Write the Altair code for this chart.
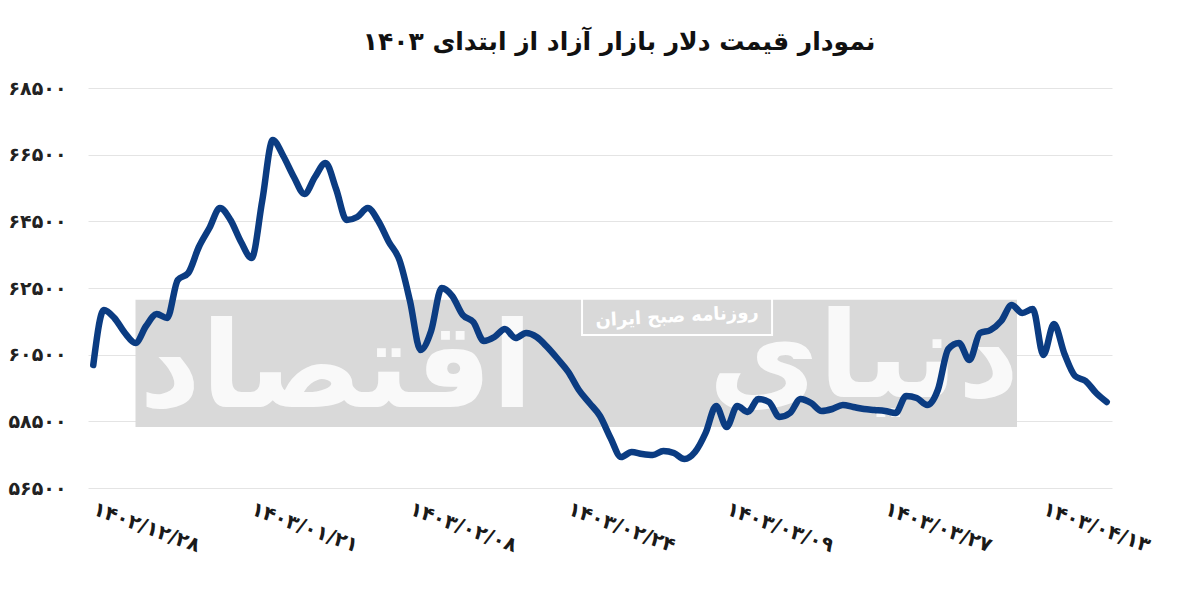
import altair as alt
import pandas as pd

# ---------------- data ----------------
title_text = "نمودار قیمت دلار بازار آزاد از ابتدای ۱۴۰۳"

prices = [
    60190, 61840, 61600, 61150, 60850, 61360, 61720, 61600, 62740, 62950,
    63730, 64300, 64900, 64540, 63880, 63400, 65110, 66940, 66460, 65830,
    65320, 65830, 66250, 65470, 64540, 64630, 64900, 64510, 63880, 63340,
    62110, 60640, 61210, 62500, 62260, 61690, 61480, 60910, 61030, 61270,
    61000, 61150, 61030, 60730, 60370, 59980, 59440, 59050, 58660, 58000,
    57430, 57580, 57520, 57490, 57610, 57550, 57370, 57580, 58150, 58960,
    58330, 58960, 58780, 59170, 59080, 58630, 58750, 59170, 59050, 58810,
    58870, 58990, 58930, 58870, 58840, 58810, 58750, 59260, 59200, 58990,
    59440, 60670, 60850, 60340, 61150, 61240, 61510, 61990, 61750, 61870,
    60490, 61420, 60520, 59860, 59710, 59350, 59080,
]

x_labels = ["۱۴۰۲/۱۲/۲۸", "۱۴۰۳/۰۱/۲۱", "۱۴۰۳/۰۲/۰۸", "۱۴۰۳/۰۲/۲۴",
            "۱۴۰۳/۰۳/۰۹", "۱۴۰۳/۰۳/۲۷", "۱۴۰۳/۰۴/۱۳"]
label_every = 15

y_ticks = [56500, 58500, 60500, 62500, 64500, 66500, 68500]
y_tick_labels = ["۵۶۵۰۰", "۵۸۵۰۰", "۶۰۵۰۰", "۶۲۵۰۰", "۶۴۵۰۰", "۶۶۵۰۰", "۶۸۵۰۰"]

watermark_small = "روزنامه صبح ایران"
watermark_left = "اقتصاد"
watermark_right = "دنیای"

# ---------------- chart ----------------
df = pd.DataFrame({"i": list(range(len(prices))), "price": prices})
n = len(prices)
x_vals = [k * label_every for k in range(len(x_labels))]
x_label_expr = "[" + ",".join("'" + s + "'" for s in x_labels) + "][round(datum.value/%d)]" % label_every
y_label_expr = "[" + ",".join("'" + s + "'" for s in y_tick_labels) + "][round((datum.value-%d)/2000)]" % y_ticks[0]

FONT = "DejaVu Sans"

x_scale = alt.Scale(domain=[-0.5, n - 0.5], nice=False, zero=False)
y_scale = alt.Scale(domain=[y_ticks[0], y_ticks[-1]], nice=False, zero=False)

x_axis = alt.Axis(values=x_vals, labelExpr=x_label_expr, labelAngle=20,
                  labelAlign="left", labelBaseline="middle", labelPadding=20,
                  grid=False, ticks=False, domain=False, labelFontSize=20,
                  labelFont=FONT, labelFontWeight="bold", labelColor="#1a1a1a",
                  labelOverlap=False, labelBound=False, labelFlush=False, title=None)
y_axis = alt.Axis(values=y_ticks, labelExpr=y_label_expr, grid=True,
                  gridColor="#e4e4e4", gridWidth=1, ticks=False, domain=False,
                  labelPadding=22, labelFontSize=19, labelFont=FONT,
                  labelFontWeight="bold", labelColor="#222222", title=None)

wm = pd.DataFrame({"x0": [4], "x1": [87.5], "y0": [62150], "y1": [58330]})
box = alt.Chart(wm).mark_rect(color="#d9d9d9").encode(
    x=alt.X("x0:Q", scale=x_scale, axis=x_axis), x2="x1",
    y=alt.Y("y0:Q", scale=y_scale, axis=y_axis), y2="y1")

wm_txt = pd.DataFrame({
    "t": [watermark_left, watermark_right],
    "x": [23, 73],
    "y": [60000, 60300],
})
big_text = alt.Chart(wm_txt).mark_text(
    color="white", fontSize=120, font=FONT, fontWeight="bold", opacity=0.85
).encode(x=alt.X("x:Q", scale=x_scale), y=alt.Y("y:Q", scale=y_scale), text="t:N")

small = pd.DataFrame({"t": [watermark_small], "x": [55.3], "y": [61630],
                      "bx0": [46.3], "bx1": [64.3], "by0": [62250], "by1": [61090]})
small_box = alt.Chart(small).mark_rect(filled=False, stroke="white", strokeWidth=2).encode(
    x=alt.X("bx0:Q", scale=x_scale), x2="bx1", y=alt.Y("by0:Q", scale=y_scale), y2="by1")
small_text = alt.Chart(small).mark_text(
    color="white", fontSize=18, font=FONT, fontWeight="bold", angle=357
).encode(x=alt.X("x:Q", scale=x_scale), y=alt.Y("y:Q", scale=y_scale), text="t:N")

line = alt.Chart(df).mark_line(
    interpolate="monotone", strokeWidth=6.5, color="#0b3c82",
    strokeCap="round", strokeJoin="round"
).encode(x=alt.X("i:Q", scale=x_scale), y=alt.Y("price:Q", scale=y_scale))

chart = alt.layer(box, big_text, small_box, small_text, line).properties(
    width=1024, height=400,
    background="white",
    autosize=alt.AutoSizeParams(type="none"),
    padding={"left": 80, "top": 80, "right": 80, "bottom": 106},
    title=alt.TitleParams(title_text, fontSize=25, font=FONT, fontWeight="bold",
                          anchor="middle", frame="group", baseline="middle",
                          offset=12, dx=19, color="#111111"),
).configure_view(strokeWidth=0, stroke="transparent")

chart.save("out.html", embed_options={"renderer": "svg", "actions": False})
